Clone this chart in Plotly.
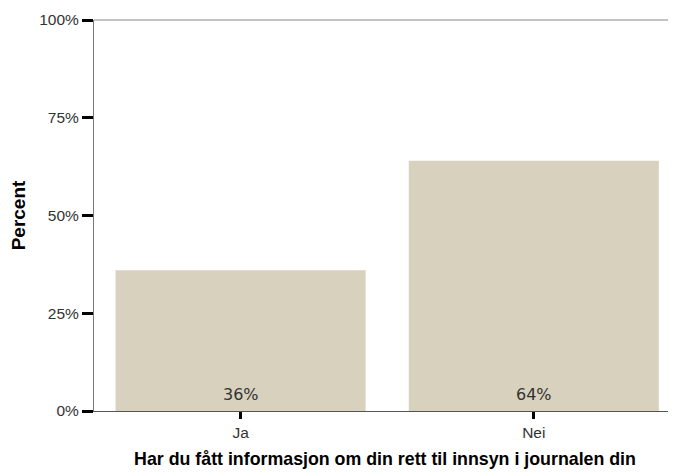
import plotly.graph_objects as go

categories = ["Ja", "Nei"]
values = [0.36, 0.64]
labels = ["36%", "64%"]
y_ticks = [0, 0.25, 0.5, 0.75, 1.0]
y_ticklabels = ["0%", "25%", "50%", "75%", "100%"]

tickfam = "Liberation Sans, Arial"

fig = go.Figure(go.Bar(
    x=categories, y=values,
    marker=dict(color="#d7d1bd", line=dict(width=0)),
    width=0.853, cliponaxis=False,
))

for c, t in zip(categories, labels):
    fig.add_annotation(x=c, y=0, text=t, showarrow=False, yanchor="bottom",
                       yshift=5, font=dict(family="DejaVu Sans", size=16, color="#333333"))

fig.update_layout(
    width=668, height=465,
    margin=dict(l=86, r=0, t=12, b=62),
    plot_bgcolor="white", paper_bgcolor="white",
    showlegend=False,
    xaxis=dict(
        range=[-0.5, 1.485], showline=True, linecolor="#555555", linewidth=1,
        mirror=False, ticks="outside", ticklen=7, tickwidth=3, tickcolor="black",
        tickfont=dict(family=tickfam, size=15.5, color="#333333"),
        title=dict(text="Har du fått informasjon om din rett til innsyn i journalen din",
                   font=dict(family="Liberation Sans, Arial", size=17.8, color="black", weight="bold"),
                   standoff=12),
        layer="below traces", showgrid=False, zeroline=False,
    ),
    yaxis=dict(
        range=[0, 1], tickvals=y_ticks, ticktext=y_ticklabels,
        showline=True, linecolor="#777777", linewidth=1,
        ticks="outside", ticklen=11, tickwidth=3, tickcolor="black",
        tickfont=dict(family=tickfam, size=15.5, color="#333333"),
        title=dict(text="Percent",
                   font=dict(family="Liberation Sans, Arial", size=19, color="black", weight="bold"),
                   standoff=14),
        showgrid=False, zeroline=False,
    ),
    shapes=[dict(type="line", xref="paper", yref="paper", x0=0, x1=1, y0=1, y1=1,
                 line=dict(color="#888888", width=1))],
)

fig.write_html("out.html")
